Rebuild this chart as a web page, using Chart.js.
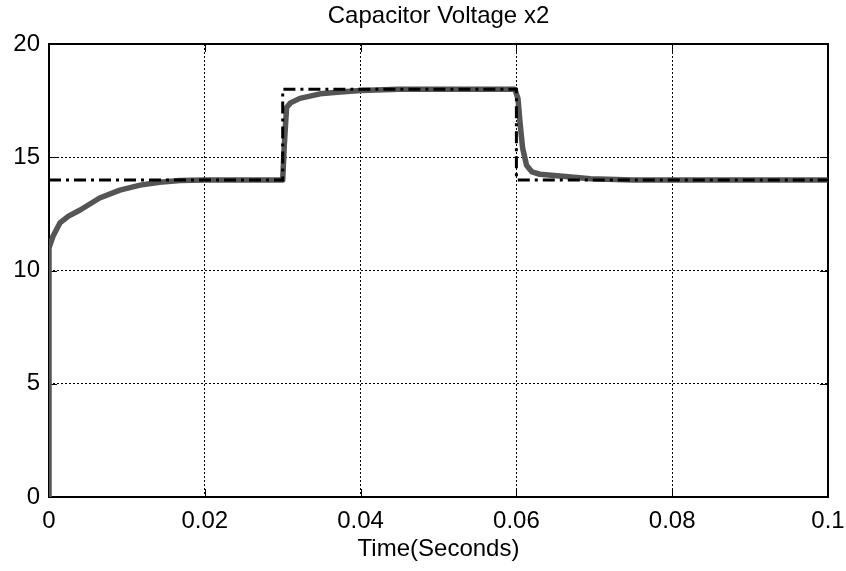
<!DOCTYPE html>
<html>
<head>
<meta charset="utf-8">
<script src="https://cdn.jsdelivr.net/npm/chart.js@4.4.0/dist/chart.umd.min.js"></script>
<style>
  html, body { margin: 0; padding: 0; background: #fff; }
  canvas { display: block; }
</style>
</head>
<body>
<canvas id="capChart" width="846" height="571"></canvas>
<script>
// measured capacitor voltage (x2)
const measT = [0, 0, 0.0005, 0.0014, 0.0025, 0.004, 0.0065, 0.0091, 0.0117, 0.0142, 0.0168, 0.02, 0.03,
  0.0302, 0.0305, 0.031, 0.0322, 0.0348, 0.0374, 0.04, 0.045, 0.0598, 0.0602, 0.0605, 0.0608, 0.0613,
  0.062, 0.063, 0.0656, 0.0695, 0.075, 0.1];
const measV = [0, 11.0, 11.5, 12.1, 12.4, 12.67, 13.2, 13.55, 13.77, 13.9, 13.97, 14.0, 14.0,
  15.5, 17.2, 17.4, 17.6, 17.8, 17.88, 17.95, 18.0, 18.0, 17.6, 16.4, 15.4, 14.65,
  14.35, 14.25, 14.17, 14.05, 14.0, 14.0];

// reference voltage (step changes at 0.03 s and 0.06 s)
const refT = [0, 0.03, 0.03, 0.06, 0.06, 0.1];
const refV = [14, 14, 18, 18, 14, 14];

const xTicks = [0, 0.02, 0.04, 0.06, 0.08, 0.1];
const yTicks = [0, 5, 10, 15, 20];

Chart.defaults.font.family = '"Liberation Sans", Arial, sans-serif';
Chart.defaults.color = '#000';

// box round the plot plus the small inward tick marks
const framePlugin = {
    id: 'frame',
    beforeDatasetsDraw(chart) {
        const { ctx, chartArea: a, scales } = chart;
        ctx.save();
        ctx.strokeStyle = '#000';
        ctx.lineWidth = 1;
        ctx.beginPath();
        scales.x.ticks.forEach(t => {
            const px = Math.round(scales.x.getPixelForValue(t.value)) + 0.5;
            ctx.moveTo(px, a.bottom); ctx.lineTo(px, a.bottom - 8);
            ctx.moveTo(px, a.top); ctx.lineTo(px, a.top + 8);
        });
        scales.y.ticks.forEach(t => {
            const py = Math.round(scales.y.getPixelForValue(t.value)) + 0.5;
            ctx.moveTo(a.left, py); ctx.lineTo(a.left + 8, py);
            ctx.moveTo(a.right, py); ctx.lineTo(a.right - 8, py);
        });
        ctx.stroke();
        ctx.lineWidth = 2;
        ctx.strokeRect(a.left, a.top, a.right - a.left, a.bottom - a.top);
        ctx.restore();
    }
};

const ctx = document.getElementById('capChart').getContext('2d');
const capChart = new Chart(ctx, {
    type: 'line',
    data: {
        datasets: [
            {
                label: 'Reference',
                data: refT.map((t, i) => ({ x: t, y: refV[i] })),
                borderColor: '#000',
                borderWidth: 3,
                borderDash: [12, 5, 3, 5],
                pointRadius: 0,
                tension: 0,
                order: 0,
            },
            {
                label: 'Measured',
                data: measT.map((t, i) => ({ x: t, y: measV[i] })),
                borderColor: '#555555',
                borderWidth: 5.5,
                borderJoinStyle: 'round',
                pointRadius: 0,
                tension: 0,
                order: 1,
            },
        ],
    },
    options: {
        responsive: false,
        devicePixelRatio: 1,
        animation: false,
        layout: { padding: { left: 0, right: 18, top: 0, bottom: 0 } },
        plugins: {
            legend: { display: false },
            tooltip: { enabled: false },
        },
        scales: {
            x: {
                type: 'linear',
                min: 0,
                max: 0.1,
                afterBuildTicks: s => { s.ticks = xTicks.map(v => ({ value: v })); },
                afterFit: s => { s.height = 74; s.paddingLeft = 0; s.paddingRight = 0; },
                ticks: {
                    padding: 10,
                    font: { size: 24 },
                    color: '#000',
                    maxRotation: 0,
                    autoSkip: false,
                    callback: v => String(+Number(v).toFixed(4)),
                },
                grid: { color: '#000', lineWidth: 1, drawTicks: false },
                border: { display: false, dash: [2, 2] },
                title: {
                    display: true,
                    text: 'Time(Seconds)',
                    font: { size: 24 },
                    color: '#000',
                    padding: { top: 0, bottom: 7 },
                },
            },
            // top axis only carries the plot title, centred over the axes box
            xTop: {
                type: 'linear',
                position: 'top',
                min: 0,
                max: 0.1,
                afterFit: s => { s.height = 44; s.paddingLeft = 0; s.paddingRight = 0; },
                ticks: { display: false },
                grid: { display: false },
                border: { display: false },
                title: {
                    display: true,
                    text: 'Capacitor Voltage x2',
                    font: { size: 24 },
                    color: '#000',
                    padding: { top: 2, bottom: 0 },
                },
            },
            y: {
                type: 'linear',
                min: 0,
                max: 20,
                afterBuildTicks: s => { s.ticks = yTicks.map(v => ({ value: v })); },
                afterFit: s => { s.width = 49; s.paddingTop = 0; s.paddingBottom = 0; },
                ticks: {
                    padding: 9,
                    font: { size: 24 },
                    color: '#000',
                    autoSkip: false,
                },
                grid: { color: '#000', lineWidth: 1, drawTicks: false },
                border: { display: false, dash: [2, 2] },
            },
        },
    },
    plugins: [framePlugin],
});
</script>
</body>
</html>
